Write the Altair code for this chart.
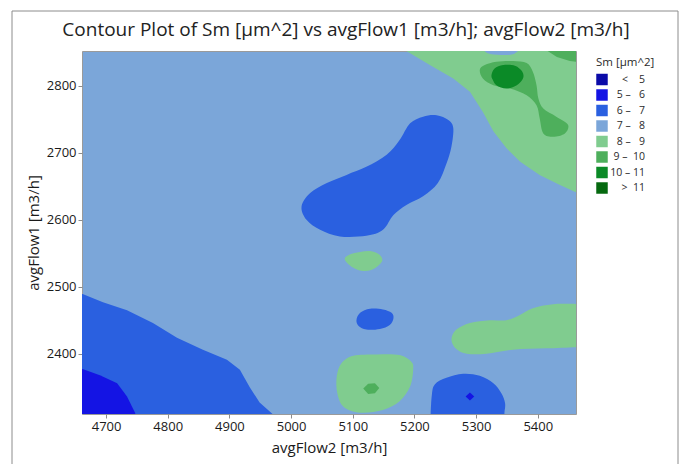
import altair as alt
import pandas as pd

FONT = "Open Sans"
NB = "\u00a0"
DASH = "\u2013"

TITLE = "Contour Plot of Sm [\u00b5m^2] vs avgFlow1 [m3/h]; avgFlow2 [m3/h]"
LEVELS = ["<" + NB * 4 + "5",
          "5" + NB + DASH + NB * 3 + "6",
          "6" + NB + DASH + NB * 3 + "7",
          "7" + NB + DASH + NB * 3 + "8",
          "8" + NB + DASH + NB * 3 + "9",
          "9" + NB + DASH + NB * 2 + "10",
          "10" + NB + DASH + NB + "11",
          ">" + NB * 2 + "11"]
COLORS = ["#0B0BA8", "#1414E4", "#2A60E0", "#7BA6D9", "#80CC8F", "#4EAF5C", "#0B8A27", "#05690F"]

X_TICKS = [4700, 4800, 4900, 5000, 5100, 5200, 5300, 5400]
Y_TICKS = [2400, 2500, 2600, 2700, 2800]
X_DOMAIN = [4661, 5462]
Y_DOMAIN = [2310, 2852]

# region outlines (data units): avgFlow2 (x), avgFlow1 (y)
BL67_X = [4650, 4662, 4695, 4734, 4776, 4815, 4857, 4896, 4917, 4933, 4949, 4970, 4976, 4650]
BL67_Y = [2490, 2489, 2477, 2465, 2446, 2424, 2406, 2391, 2376, 2350, 2327, 2310, 2300, 2300]

BL56_X = [4650, 4663, 4690, 4718, 4734, 4747, 4750, 4650]
BL56_Y = [2378, 2377, 2368, 2356, 2336, 2312, 2300, 2300]

BLOB67_X = [5017, 5031, 5058, 5090, 5122, 5155, 5176, 5193, 5214, 5236, 5255, 5263, 5260, 5252, 5238, 5214, 5187, 5166, 5149, 5122, 5079, 5047, 5025]
BLOB67_Y = [2620, 2640, 2655, 2667, 2679, 2697, 2719, 2744, 2754, 2756, 2749, 2737, 2709, 2684, 2655, 2635, 2622, 2607, 2585, 2576, 2575, 2585, 2600]

SMALL67_X = [5106, 5112, 5128, 5149, 5163, 5166, 5160, 5144, 5122, 5110]
SMALL67_Y = [2450, 2461, 2467, 2466, 2461, 2453, 2443, 2437, 2436, 2441]

BR67_X = [5226, 5228, 5233, 5252, 5279, 5306, 5328, 5341, 5347, 5346, 5345]
BR67_Y = [2300, 2336, 2354, 2364, 2370, 2367, 2356, 2341, 2326, 2312, 2300]

BR56_X = [5283, 5290, 5297, 5290]
BR56_Y = [2336, 2342, 2336, 2330]

SMALL89_X = [5087, 5095, 5112, 5130, 5143, 5148, 5143, 5130, 5114, 5098]
SMALL89_Y = [2541, 2548, 2552, 2553, 2548, 2540, 2533, 2525, 2524, 2530]

BOT89_X = [5074, 5082, 5101, 5139, 5176, 5195, 5198, 5193, 5176, 5149, 5112, 5085, 5075]
BOT89_Y = [2366, 2386, 2397, 2399, 2398, 2388, 2376, 2351, 2329, 2316, 2312, 2321, 2341]

BOT910_X = [5117, 5125, 5136, 5143, 5136, 5125]
BOT910_Y = [2348, 2355, 2356, 2349, 2341, 2340]

RIGHT89_X = [5470, 5425, 5392, 5371, 5349, 5322, 5290, 5268, 5260, 5268, 5285, 5317, 5360, 5414, 5470]
RIGHT89_Y = [2474, 2474, 2468, 2458, 2450, 2450, 2446, 2436, 2421, 2407, 2400, 2400, 2406, 2408, 2410]

TOP89_X = [5180, 5187, 5225, 5263, 5290, 5311, 5328, 5349, 5371, 5403, 5436, 5460, 5475, 5475]
TOP89_Y = [2862, 2852, 2831, 2811, 2791, 2761, 2732, 2707, 2687, 2667, 2652, 2642, 2636, 2862]

TAIL910_X = [5306, 5314, 5333, 5360, 5382, 5392, 5398, 5401, 5409, 5430, 5449, 5444, 5425, 5409, 5403, 5398, 5382, 5355, 5328, 5311]
TAIL910_Y = [2824, 2831, 2836, 2837, 2834, 2821, 2801, 2781, 2766, 2754, 2742, 2729, 2724, 2729, 2752, 2771, 2786, 2796, 2801, 2811]

CORNER910_X = [5412, 5416, 5431, 5452, 5475, 5475]
CORNER910_Y = [2862, 2852, 2843, 2837, 2835, 2862]

SPOT1011_X = [5325, 5330, 5344, 5363, 5375, 5376, 5366, 5349, 5333, 5327]
SPOT1011_Y = [2816, 2826, 2831, 2830, 2821, 2811, 2801, 2796, 2801, 2809]

NOTCH78_X = [5308, 5318, 5340, 5362, 5376]
NOTCH78_Y = [2860, 2849, 2846, 2848, 2860]

REGIONS = [
    (BL67_X, BL67_Y, 2, "linear"),
    (BL56_X, BL56_Y, 1, "linear"),
    (BLOB67_X, BLOB67_Y, 2, "cardinal-closed"),
    (SMALL67_X, SMALL67_Y, 2, "cardinal-closed"),
    (BR67_X, BR67_Y, 2, "cardinal"),
    (BR56_X, BR56_Y, 1, "linear-closed"),
    (SMALL89_X, SMALL89_Y, 4, "cardinal-closed"),
    (BOT89_X, BOT89_Y, 4, "cardinal-closed"),
    (BOT910_X, BOT910_Y, 5, "linear-closed"),
    (RIGHT89_X, RIGHT89_Y, 4, "cardinal"),
    (TOP89_X, TOP89_Y, 4, "linear"),
    (TAIL910_X, TAIL910_Y, 5, "cardinal-closed"),
    (CORNER910_X, CORNER910_Y, 5, "linear"),
    (SPOT1011_X, SPOT1011_Y, 6, "cardinal-closed"),
    (NOTCH78_X, NOTCH78_Y, 3, "cardinal"),
]

fill_scale = alt.Scale(domain=LEVELS, range=COLORS)
x_scale = alt.Scale(domain=X_DOMAIN, nice=False, zero=False)
y_scale = alt.Scale(domain=Y_DOMAIN, nice=False, zero=False)

axis_style = dict(grid=False, domain=False, format="d", tickColor="#8c8c8c", tickSize=4,
                  labelPadding=2, labelFontSize=13, labelColor="#1a1a1a", labelFont=FONT,
                  titleFont=FONT, titleFontSize=15, titleFontWeight=500, titleColor="#1a1a1a")

layers = []
for k, (xs, ys, lev, interp) in enumerate(REGIONS):
    df = pd.DataFrame({"x": xs, "y": ys, "i": list(range(len(xs))),
                       "level": [LEVELS[lev]] * len(xs)})
    layer = alt.Chart(df).mark_line(interpolate=interp, strokeWidth=0, clip=True).encode(
        x=alt.X("x:Q", scale=x_scale,
                axis=alt.Axis(values=X_TICKS, title="avgFlow2 [m3/h]", titlePadding=7, **axis_style)),
        y=alt.Y("y:Q", scale=y_scale,
                axis=alt.Axis(values=Y_TICKS, title="avgFlow1 [m3/h]", titlePadding=5, **axis_style)),
        order=alt.Order("i:Q"),
        fill=alt.Fill("level:N", scale=fill_scale,
                      legend=alt.Legend(title="Sm [\u00b5m^2]", orient="none", legendX=514, legendY=6,
                                        symbolType="square", symbolSize=132, symbolStrokeWidth=0,
                                        titleFont=FONT, titleFontSize=11.5, titleFontWeight="normal",
                                        titleColor="#2b2b2b", labelFont=FONT, labelFontSize=10.5,
                                        labelColor="#2b2b2b", rowPadding=3.5, titlePadding=5,
                                        labelAlign="right", labelOffset=37)),
    )
    layers.append(layer)

frame = alt.Chart(pd.DataFrame({"a": [0]})).mark_rect(
    fillOpacity=0, stroke="#8c8c8c", strokeWidth=1, clip=False
).encode(x=alt.value(-70), x2=alt.value(596), y=alt.value(-40), y2=alt.value(430))

title = alt.Chart(pd.DataFrame({"t": [TITLE]})).mark_text(
    font=FONT, fontSize=19, fontWeight=500, color="#222222", align="center", baseline="middle",
    clip=False
).encode(text="t:N", x=alt.value(264), y=alt.value(-21))

chart = alt.layer(*layers, frame, title).properties(
    width=494, height=363,
    padding={"left": 82, "top": 51, "right": 111, "bottom": 50},
    autosize=alt.AutoSizeParams(type="none"),
).configure(
    background="white",
    view=alt.ViewConfig(fill="#7BA6D9", stroke="#9a9a9a", strokeWidth=1),
)

chart.save("out.html", embed_options={"renderer": "svg", "actions": False})
